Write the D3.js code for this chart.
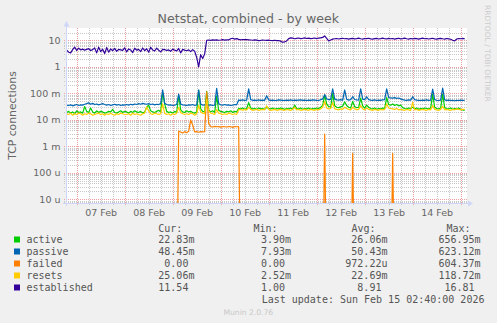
<!DOCTYPE html>
<html>
<head>
<meta charset="utf-8">
<script src="https://cdn.jsdelivr.net/npm/d3@7"></script>
<style>
body { margin: 0; background: #f0f0f0; }
svg { display: block; }
text { font-family: "DejaVu Sans", sans-serif; }
.mono { font-family: "DejaVu Sans Mono", monospace; white-space: pre; }
</style>
</head>
<body>
<svg id="chart"></svg>
<script>
// hourly samples, first one at Feb 6 19:00
var startTime = new Date(2026, 1, 6, 19, 0);
var seriesNames = ["active", "passive", "failed", "resets", "established"];
var seriesColors = ["#00cc00", "#0066b3", "#ff8000", "#ffcc00", "#330099"];

// values in milli (m) for active / passive / failed / resets
var activeMilli = [
	19,21,18,20,17,22,19,20,18,32, 21,19,28,20,18,22,19,21,20,18,
	19,21,20,25,19,18,20,22,19,21, 20,18,21,19,22,20,19,21,18,20,
	30,36,22,20,19,21,23,20,110,40, 21,19,20,18,21,19,85,24,20,19,
	22,20,21,19,18,20,130,26,21,20, 120,24,20,22,19,80,23,21,20,19,
	21,20,22,19,21,20,27,26,28,25, 27,45,28,26,27,25,28,26,27,25,
	30,27,26,28,25,27,26,28,27,25, 27,26,28,25,36,27,26,28,25,27,
	26,28,25,27,26,28,27,30,35,88, 40,32,30,100,34,30,29,31,33,48,
	35,30,28,50,32,29,30,66,34,28, 36,30,27,26,28,25,27,26,28,27,
	70,38,36,40,35,38,34,36,29,27, 26,28,27,30,26,28,25,27,26,28,
	27,26,28,92,30,27,26,28,92,29, 27,26,28,25,27,26,28,25,24,23
];
var passiveMilli = [
	36,35,37,34,36,38,35,37,36,39, 41,44,39,42,38,40,37,39,41,38,
	36,38,35,37,39,36,38,35,37,36, 38,36,39,37,40,38,41,39,42,40,
	39,41,38,40,37,39,38,41,135,42, 38,36,37,35,36,38,95,40,37,36,
	35,37,36,38,35,37,135,40,36,37, 38,36,37,35,36,155,41,37,36,38,
	36,37,35,36,38,37,56,55,57,54, 56,148,58,55,56,54,57,55,56,55,
	82,57,55,56,54,55,57,56,55,54, 56,55,57,54,56,55,56,57,55,56,
	54,56,55,57,56,55,54,58,62,90, 63,58,60,150,62,57,56,58,55,135,
	60,56,58,75,59,57,56,150,61,58, 75,58,56,55,57,54,56,55,57,58,
	148,70,68,66,69,65,67,62,58,56, 55,57,56,75,58,56,55,54,56,55,
	57,55,56,145,58,55,54,56,158,57, 55,56,54,55,53,55,54,56,55,54
];
var failedMilli = [
	0,0,0,0,0,0,0,0,0,0, 0,0,0,0,0,0,0,0,0,0,
	0,0,0,0,0,0,0,0,0,0, 0,0,0,0,0,0,0,0,0,0,
	0,0,0,0,0,0,0,0,0,0, 0,0,0,0,0,0,3.8,3.5,3.2,3.6,
	3.3,3.7,10,6.4,3.5,3.6,3.4,3.6,3.5,3.6, 115,7.4,5.6,5.4,5.7,5.5,5.6,5.3,5.6,5.5,
	5.4,5.6,5.5,5.2,5.6,5.5,5.6,0,0,0, 0,0,0,0,0,0,0,0,0,0,
	0,0,0,0,0,0,0,0,0,0, 0,0,0,0,0,0,0,0,0,0,
	0,0,0,0,0,0,0,0,0,2.9, 0,0,0,0,0,0,0,0,0,0,
	0,0,0,0.55,0,0,0,0,0,0, 0,0,0,0,0,0,0,0,0,0,
	0,0,0,0.55,0,0,0,0,0,0, 0,0,0,0,0,0,0,0,0,0,
	0,0,0,0,0,0,0,0,0,0, 0,0,0,0,0,0,0,0,0,0
];
var resetsMilli = [
	17,16,18,15,17,16,18,17,15,17, 16,18,17,15,16,17,18,16,17,15,
	17,16,18,16,15,17,16,18,17,16, 16,17,15,18,16,17,16,15,17,18,
	31,22,17,16,18,17,16,17,40,18, 16,17,15,17,16,18,30,19,17,16,
	17,16,18,17,15,17,35,20,18,17, 60,22,18,17,16,25,18,17,16,17,
	16,18,17,16,17,16,24,25,23,25, 24,30,25,23,24,25,23,24,25,24,
	34,25,23,24,25,23,24,25,24,23, 25,24,23,25,30,24,25,23,24,25,
	24,23,25,24,23,25,24,26,30,50, 28,26,27,45,26,25,24,26,25,30,
	27,25,24,30,26,24,25,35,26,24, 28,25,24,23,25,24,23,25,24,25,
	40,28,27,26,25,27,24,25,24,23, 25,24,23,46,24,25,23,24,25,24,
	23,25,24,35,25,24,23,25,33,24, 25,24,23,25,24,26,25,24,25,25
];
var established = [
	4.3,3.6,3.4,4.5,5.6,4.2,5.1,4.4,4.7,4.3, 4.6,4.9,4.2,4.5,5.2,3.4,5.6,3.8,4.7,3.2,
	5.4,3.6,4.8,4.1,5.0,3.9,4.6,4.4,4.2,5.3, 3.7,4.8,4.4,3.5,5.1,4.3,4.6,3.8,5.2,4.1,
	4.9,3.6,5.5,4.4,4.0,5.1,4.3,3.7,4.6,4.5, 4.2,4.4,3.9,4.7,4.3,4.0,5.0,3.4,4.6,4.3,
	4.1,4.4,3.8,4.5,3.9,2.3,1.0,2.9,2.1,3.1, 10.2,10.4,10.1,10.6,10.3,10.5,10.2,10.4,10.7,10.3,
	10.6,10.5,11.6,12.1,11.2,11.8,11.0,10.6,10.9,10.7, 10.8,10.6,10.4,10.2,10.5,10.3,9.9,10.1,10.4,10.2,
	10.1,10.3,10.0,9.8,10.2,9.9,10.0,9.4,8.6,8.9, 9.6,11.8,12.6,12.2,11.6,12.0,12.4,11.8,12.1,12.5,
	11.9,12.3,11.7,12.0,12.4,11.8,12.2,12.6,13.0,14.8, 12.0,9.7,10.4,11.2,11.6,11.9,11.4,11.8,12.1,11.6,
	11.9,11.3,11.7,12.0,11.5,11.8,12.2,11.6,11.3,11.9, 11.7,12.1,11.5,11.2,11.8,12.0,11.4,11.7,12.3,11.6,
	11.4,12.0,11.6,11.9,11.3,11.8,12.1,11.5,11.7,12.2, 11.6,11.2,11.9,11.5,12.0,11.7,11.3,11.8,12.2,11.6,
	11.9,11.4,11.7,12.1,11.5,11.2,11.8,12.0,11.6,11.3, 11.9,11.5,11.1,10.2,9.7,11.4,11.8,11.6,12.0,11.5
];

var legendCur = ["22.83m", "48.45m", "0.00", "25.06m", "11.54"];
var legendMin = ["3.90m", "7.93m", "0.00", "2.52m", "1.00"];
var legendAvg = ["26.06m", "50.43m", "972.22u", "22.69m", "8.91"];
var legendMax = ["656.95m", "623.12m", "604.37m", "118.72m", "16.81"];
var yTickValues = [10, 1, 0.1, 0.01, 0.001, 0.0001, 0.00001];
var yTickLabels = ["10", "1", "100 m", "10 m", "1 m", "100 u", "10 u"];
var xTickDays = [7, 8, 9, 10, 11, 12, 13, 14];

var width = 497, height = 323;
var plotLeft = 66, plotRight = 466, plotTop = 28, plotBottom = 203;

var svg = d3.select("#chart").attr("width", width).attr("height", height);
svg.append("rect").attr("width", width).attr("height", height).attr("fill", "#f0f0f0");

var x = d3.scaleTime()
	.domain([new Date(2026, 1, 6, 18, 40), new Date(2026, 1, 15, 2, 40)])
	.range([plotLeft, plotRight]);
var y = d3.scaleLog()
	.domain([7.25e-6, 29.6])
	.range([plotBottom, plotTop]);

var times = activeMilli.map(function(d, i) { return d3.timeHour.offset(startTime, i); });
var series = [
	activeMilli.map(function(v) { return v / 1000; }),
	passiveMilli.map(function(v) { return v / 1000; }),
	failedMilli.map(function(v) { return v / 1000; }),
	resetsMilli.map(function(v) { return v / 1000; }),
	established
];

svg.append("rect")
	.attr("x", plotLeft).attr("y", plotTop)
	.attr("width", plotRight - plotLeft + 1).attr("height", plotBottom - plotTop)
	.attr("fill", "#ffffff");

// grid
var crisp = function(v) { return Math.round(v) + 0.5; };
var grid = svg.append("g").attr("shape-rendering", "crispEdges");
var hTicks = y.ticks().filter(function(d) { return d >= y.domain()[0] && d <= y.domain()[1]; });
hTicks.forEach(function(d) {
	var major = Math.abs(Math.log10(d) - Math.round(Math.log10(d))) < 1e-6;
	grid.append("line")
		.attr("x1", plotLeft - 2).attr("x2", plotRight + 1)
		.attr("y1", crisp(y(d))).attr("y2", crisp(y(d)))
		.attr("stroke", major ? "#f0a0a0" : "#c8c8c8")
		.attr("stroke-dasharray", "1,1");
});
var sixHours = d3.timeHour.every(6).range(x.domain()[0], x.domain()[1]);
sixHours.forEach(function(d) {
	var major = d.getHours() == 0;
	grid.append("line")
		.attr("x1", crisp(x(d))).attr("x2", crisp(x(d)))
		.attr("y1", plotTop).attr("y2", plotBottom + 2)
		.attr("stroke", major ? "#f0a0a0" : "#c8c8c8")
		.attr("stroke-dasharray", "1,1");
});

// lines
var clip = svg.append("clipPath").attr("id", "plotclip");
clip.append("rect").attr("x", plotLeft).attr("y", plotTop)
	.attr("width", plotRight - plotLeft + 1).attr("height", plotBottom - plotTop);
var valueline = d3.line()
	.x(function(d, i) { return x(times[i]); })
	.y(function(d) { return y(Math.max(d, 1e-9)); });
var plot = svg.append("g").attr("clip-path", "url(#plotclip)");
series.forEach(function(s, k) {
	plot.append("path")
		.datum(s)
		.attr("d", valueline)
		.attr("fill", "none")
		.attr("stroke", seriesColors[k])
		.attr("stroke-width", 1.2)
		.attr("stroke-linejoin", "round");
});

// axes
var axisColor = "#cfd6f8";
svg.append("line").attr("x1", plotLeft - 3).attr("x2", plotRight + 3)
	.attr("y1", plotBottom + 0.5).attr("y2", plotBottom + 0.5)
	.attr("stroke", axisColor);
svg.append("line").attr("x1", plotLeft + 0.5).attr("x2", plotLeft + 0.5)
	.attr("y1", plotBottom + 3).attr("y2", plotTop - 3)
	.attr("stroke", axisColor);
svg.append("path").attr("d", "M468," + (plotBottom - 2.5) + "L473," + (plotBottom + 0.5) + "L468," + (plotBottom + 3.5) + "Z")
	.attr("fill", axisColor);
svg.append("path").attr("d", "M63.5,26.5L66.5,21L69.5,26.5Z").attr("fill", axisColor);

var yAxis = svg.append("g")
	.attr("transform", "translate(" + plotLeft + ",0)")
	.call(d3.axisLeft(y).tickValues(yTickValues).tickSize(0).tickPadding(5.5)
		.tickFormat(function(d, i) { return yTickLabels[i]; }));
var xAxis = svg.append("g")
	.attr("transform", "translate(0," + plotBottom + ")")
	.call(d3.axisBottom(x).tickSize(0).tickPadding(6)
		.tickValues(xTickDays.map(function(d) { return new Date(2026, 1, d, 12, 0); }))
		.tickFormat(d3.timeFormat("%d %b")));
[yAxis, xAxis].forEach(function(a) {
	a.select(".domain").remove();
	a.selectAll("text").attr("fill", "#666666").style("font-size", "9.5px")
		.style("font-family", "'DejaVu Sans', sans-serif");
});

// titles
svg.append("text").attr("x", 248.3).attr("y", 23).attr("text-anchor", "middle")
	.attr("fill", "#666666").style("font-size", "12.6px").text("Netstat, combined - by week");
svg.append("text").attr("transform", "translate(15.5," + ((plotTop + plotBottom) / 2) + ") rotate(-90)")
	.attr("text-anchor", "middle").attr("fill", "#666666").style("font-size", "10.8px")
	.text("TCP connections");
svg.append("text").attr("transform", "translate(485,5) rotate(90)")
	.attr("fill", "#cccccc").style("font-size", "7.5px").text("RRDTOOL / TOBI OETIKER");

// legend
var legend = svg.append("g");
var pad = function(s, w) {
	if (/[0-9]$/.test(s)) s = s + " ";
	while (s.length < w) s = " " + s;
	return s;
};
var heads = [["Cur:", 158.3], ["Min:", 253.5], ["Avg:", 351.5], ["Max:", 446.5]];
heads.forEach(function(h) {
	legend.append("text").attr("class", "mono").attr("x", h[1]).attr("y", 231.5)
		.attr("fill", "#555555").style("font-size", "10px").text(h[0]);
});
seriesNames.forEach(function(name, k) {
	var yy = 243.3 + 12 * k;
	legend.append("rect").attr("x", 14).attr("y", yy - 6.8).attr("width", 6).attr("height", 6)
		.attr("fill", seriesColors[k]);
	var cols = [[name, 26.5], [pad(legendCur[k], 6), 158.3], [pad(legendMin[k], 6), 255],
		[pad(legendAvg[k], 7), 345.3], [pad(legendMax[k], 7), 438.5]];
	cols.forEach(function(c) {
		legend.append("text").attr("class", "mono").attr("x", c[1]).attr("y", yy)
			.attr("fill", "#555555").style("font-size", "10px").text(c[0]);
	});
});
legend.append("text").attr("class", "mono").attr("x", 261.7).attr("y", 303.3)
	.attr("fill", "#555555").style("font-size", "10px").text("Last update: Sun Feb 15 02:40:00 2026");
svg.append("text").attr("x", 248.3).attr("y", 315).attr("text-anchor", "middle")
	.attr("fill", "#c8c8c8").style("font-size", "7.6px").text("Munin 2.0.76");
</script>
</body>
</html>
